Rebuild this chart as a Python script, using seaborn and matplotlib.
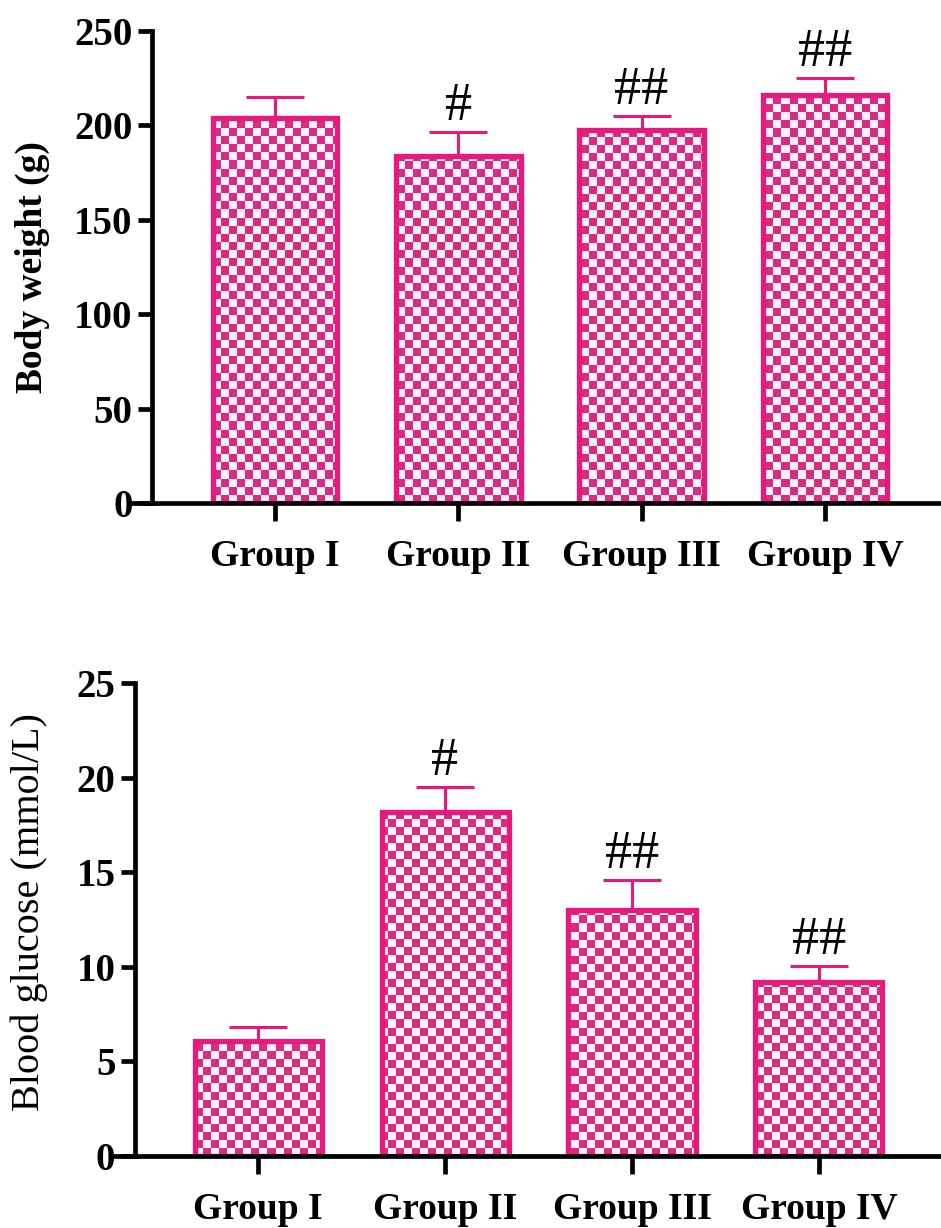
import numpy as np
import pandas as pd
import seaborn as sns
import matplotlib.pyplot as plt
from matplotlib.colors import ListedColormap

# values (mean, upper error, significance marks)
groups = ["Group I", "Group II", "Group III", "Group IV"]
weight_mean = [204, 184, 197.5, 216]
weight_err = [11, 12.5, 7.5, 9]
weight_sig = ["", "#", "##", "##"]
glucose_mean = [6.1, 18.2, 13.0, 9.2]
glucose_err = [0.7, 1.3, 1.6, 0.85]
glucose_sig = ["", "#", "##", "##"]

pink = "#E8187C"
checker_cmap = ListedColormap(["#FDF0F7", "#DA2A82"])

sns.set_style("ticks")
plt.rcParams["font.family"] = ["Liberation Serif", "DejaVu Serif"]

fig = plt.figure(figsize=(9.41, 12.28), dpi=100)


def checker_fill(ax, cell=8):
    # checkerboard fill clipped to each bar outline
    fig.canvas.draw()
    bbox = ax.get_window_extent()
    nx = int(bbox.width / cell)
    ny = int(bbox.height / cell)
    board = (np.add.outer(np.arange(ny), np.arange(nx)) % 2)
    xl, yl = ax.get_xlim(), ax.get_ylim()
    for bar in list(ax.patches):
        im = ax.imshow(board, cmap=checker_cmap, extent=(xl[0], xl[1], yl[0], yl[1]),
                       origin="lower", aspect="auto", interpolation="nearest", zorder=0.5)
        im.set_clip_path(bar)
    ax.set_xlim(xl)
    ax.set_ylim(yl)


def panel(rect, means, errs, sigs, ylabel, ymax, ystep, xlim, spine_x,
          label_weight, label_size, label_x, label_y):
    ax = fig.add_axes(rect)
    df = pd.DataFrame({"group": groups, "value": means})
    sns.barplot(data=df, x="group", y="value", order=groups, color=pink, fill=False,
                linewidth=3.8, width=0.68, errorbar=None, ax=ax)
    for bar in ax.patches:
        bar.set_zorder(1)
        bar.set_joinstyle("miter")
    pos = np.arange(len(groups))
    ax.errorbar(pos, means, yerr=[np.zeros(len(errs)), errs], fmt="none",
                ecolor=pink, elinewidth=2.2, capsize=21, capthick=2.2, zorder=2)
    for x, m, e, s in zip(pos, means, errs, sigs):
        if s:
            ax.annotate(s, (x, m + e), xytext=(0, 0), textcoords="offset points",
                        ha="center", va="bottom", fontsize=39, color="black")
    ax.set_xlim(xlim)
    ax.set_ylim(0, ymax)
    ax.set_yticks(np.arange(0, ymax + 1e-9, ystep))
    ax.spines["top"].set_visible(False)
    ax.spines["right"].set_visible(False)
    ax.spines["left"].set_position(("data", spine_x))
    ax.spines["left"].set_bounds(0, ymax)
    for sp in ("left", "bottom"):
        ax.spines[sp].set_linewidth(3.4)
        ax.spines[sp].set_capstyle("projecting")
        ax.spines[sp].set_color("black")
    ax.tick_params(axis="y", length=10, width=3.4, pad=4, labelsize=28, colors="black")
    ax.tick_params(axis="x", length=13, width=3.4, pad=13, labelsize=27, colors="black")
    for lab in ax.get_xticklabels() + ax.get_yticklabels():
        lab.set_fontweight("bold")
    ax.set_xlabel("")
    ax.set_ylabel(ylabel, fontsize=label_size, fontweight=label_weight, color="black")
    ax.yaxis.set_label_coords(label_x, label_y)
    checker_fill(ax)
    return ax


panel([133 / 941, 1 - 503 / 1228, 808 / 941, 472 / 1228],
      weight_mean, weight_err, weight_sig, "Body weight (g)", 250, 50,
      (-0.776, 3.634), -0.672, "bold", 27, (50 - 133) / 808, 0.5)

panel([114 / 941, 1 - 1156 / 1228, 827 / 941, 473 / 1228],
      glucose_mean, glucose_err, glucose_sig, "Blood glucose (mmol/L)", 25, 5,
      (-0.771, 3.653), -0.659, "normal", 29, (48 - 114) / 827, 0.515)

fig.savefig("out.png", dpi=100)
